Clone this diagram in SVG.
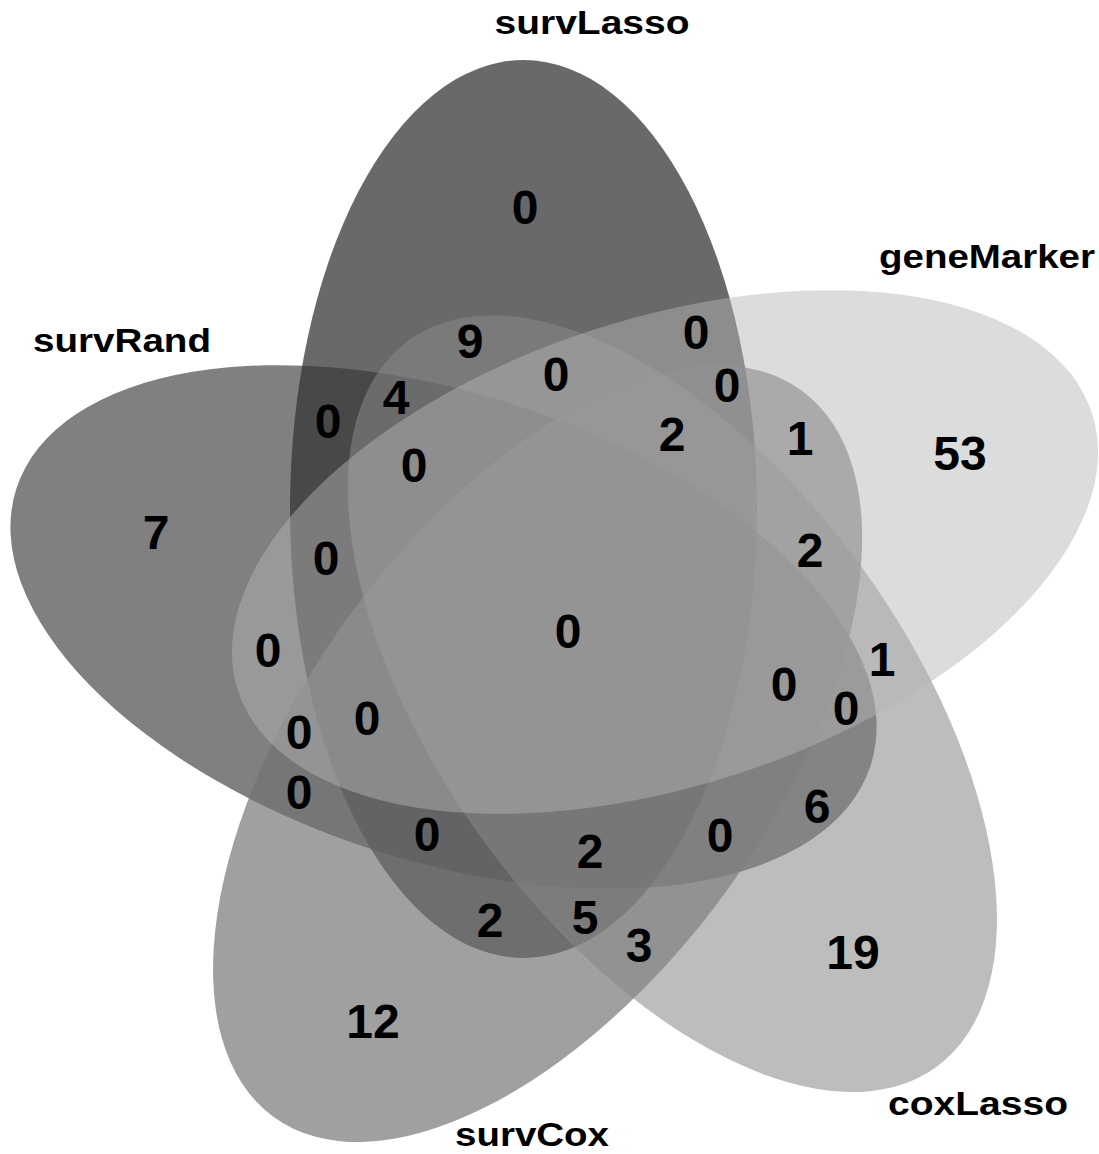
<svg xmlns="http://www.w3.org/2000/svg" width="1099" height="1154" viewBox="0 0 1099 1154">
<style>
.set{stroke:none}
.lab{font-family:"Liberation Sans",Arial,Helvetica,sans-serif;font-weight:bold;font-size:34px;fill:#000;text-anchor:middle}
.num{font-family:"Liberation Sans",Arial,Helvetica,sans-serif;font-weight:bold;font-size:48px;fill:#000;text-anchor:middle}
</style>
<rect width="1099" height="1154" fill="#fff"/>
<g id="survLasso">
<ellipse class="set" cx="523.5" cy="509" rx="233.5" ry="449" fill="#181818" fill-opacity="0.65"/>
<text class="lab" x="592" y="34" textLength="195" lengthAdjust="spacingAndGlyphs">survLasso</text>
</g>
<g id="survRand">
<ellipse class="set" cx="443.5" cy="627" rx="449" ry="233.5" transform="rotate(18 443.5 627)" fill="#343434" fill-opacity="0.627"/>
<text class="lab" x="122" y="352" textLength="178" lengthAdjust="spacingAndGlyphs">survRand</text>
</g>
<g id="survCox">
<ellipse class="set" cx="537.6" cy="753.7" rx="449" ry="233.5" transform="rotate(-54 537.6 753.7)" fill="#717171" fill-opacity="0.667"/>
<text class="lab" x="532" y="1146" textLength="154" lengthAdjust="spacingAndGlyphs">survCox</text>
</g>
<g id="coxLasso">
<ellipse class="set" cx="672.4" cy="703.7" rx="449" ry="233.5" transform="rotate(54 672.4 703.7)" fill="#888888" fill-opacity="0.553"/>
<text class="lab" x="978" y="1115" textLength="180" lengthAdjust="spacingAndGlyphs">coxLasso</text>
</g>
<g id="geneMarker">
<ellipse class="set" cx="665" cy="552" rx="449" ry="233.5" transform="rotate(-18 665 552)" fill="#b5b5b5" fill-opacity="0.473"/>
<text class="lab" x="987" y="268" textLength="216" lengthAdjust="spacingAndGlyphs">geneMarker</text>
</g>
<g id="connectors"/>
<g id="counts" class="num">
<text class="num" x="525" y="224">0</text>
<text class="num" x="960" y="470">53</text>
<text class="num" x="470" y="358">9</text>
<text class="num" x="696" y="349">0</text>
<text class="num" x="556" y="391">0</text>
<text class="num" x="727" y="402">0</text>
<text class="num" x="672" y="451">2</text>
<text class="num" x="396" y="414">4</text>
<text class="num" x="328" y="438">0</text>
<text class="num" x="414" y="482">0</text>
<text class="num" x="800" y="455">1</text>
<text class="num" x="156" y="549">7</text>
<text class="num" x="326" y="575">0</text>
<text class="num" x="810" y="567">2</text>
<text class="num" x="568" y="648">0</text>
<text class="num" x="268" y="667">0</text>
<text class="num" x="882" y="676">1</text>
<text class="num" x="784" y="701">0</text>
<text class="num" x="846" y="725">0</text>
<text class="num" x="367" y="735">0</text>
<text class="num" x="299" y="749">0</text>
<text class="num" x="299" y="809">0</text>
<text class="num" x="817" y="823">6</text>
<text class="num" x="427" y="851">0</text>
<text class="num" x="720" y="852">0</text>
<text class="num" x="590" y="868">2</text>
<text class="num" x="490" y="937">2</text>
<text class="num" x="585" y="934">5</text>
<text class="num" x="639" y="962">3</text>
<text class="num" x="853" y="969">19</text>
<text class="num" x="373" y="1038">12</text>
</g>
</svg>
